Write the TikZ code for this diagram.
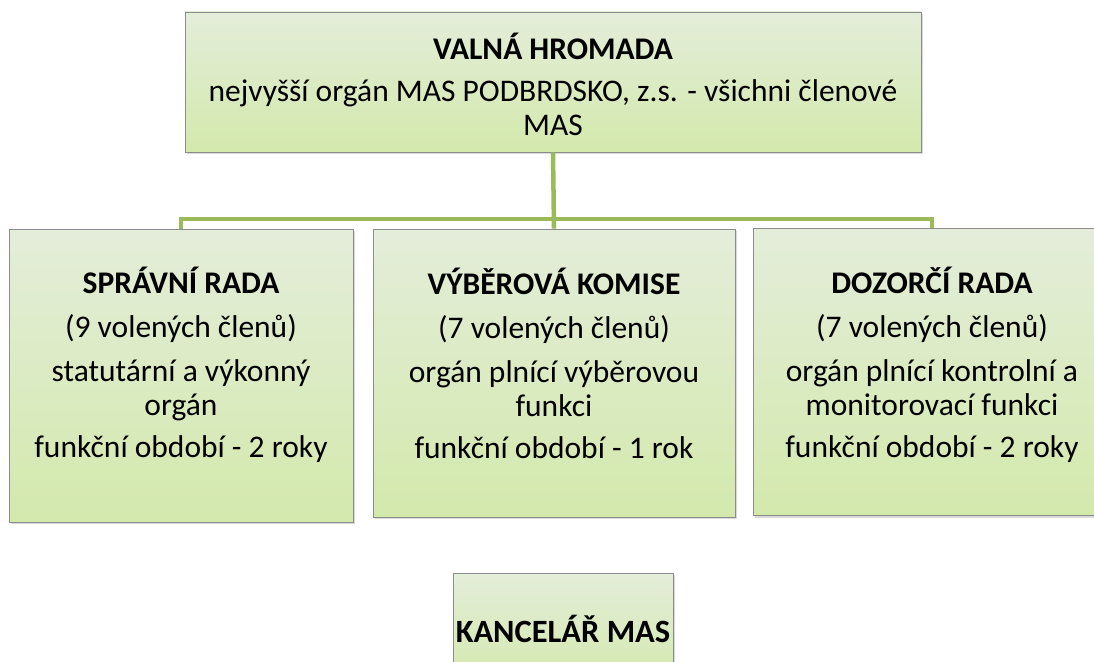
\documentclass[tikz,border=0pt]{standalone}
\usepackage{fontspec}
\setmainfont{Carlito}
\usetikzlibrary{shadows}
\definecolor{boxtop}{RGB}{228,237,218}
\definecolor{boxbot}{RGB}{211,233,172}
\definecolor{linegreen}{RGB}{155,187,89}
\begin{document}
\begin{tikzpicture}[x=1pt,y=-1pt,
	box/.style={draw=black!45,line width=0.7pt,top color=boxtop,bottom color=boxbot,inner sep=0pt,
		drop shadow={shadow xshift=1.5pt,shadow yshift=-2pt,opacity=0.3}},
	txt/.style={align=center,inner sep=0pt,font=\fontsize{31.5}{34}\selectfont},
	conn/.style={draw=linegreen,line width=4.5pt}]
		\useasboundingbox (0,0) rectangle (1094,661);
		\clip (0,0) rectangle (1094,661);
		% boxes
		\node[box,minimum width=736,minimum height=140] (vh) at (553,82) {};
		\node[box,minimum width=344,minimum height=293] (sr) at (181,375.5) {};
		\node[box,minimum width=362,minimum height=288] (vk) at (554,373) {};
		\node[box,minimum width=358,minimum height=287] (dr) at (932,372) {};
		\node[box,minimum width=220,minimum height=112] (kanc) at (563,629) {};
		% texts
		\node[txt] (vh-t) at (553,84) {\textbf{VALNÁ HROMADA}\\[8pt]
			nejvyšší orgán MAS PODBRDSKO, z.s. - všichni členové\\ MAS};
		\node[txt] (sr-t) at (181,364.5) {\textbf{SPRÁVNÍ RADA}\\[10pt]
			(9 volených členů)\\[10pt] statutární a výkonný\\ orgán\\[8pt]
			funkční období - 2 roky};
		\node[txt] (vk-t) at (554,363.5) {\textbf{VÝBĚROVÁ KOMISE}\\[10pt]
			(7 volených členů)\\[10pt] orgán plnící výběrovou\\ funkci\\[8pt]
			funkční období - 1 rok};
		\node[txt] (dr-t) at (932,364.5) {\textbf{DOZORČÍ RADA}\\[10pt]
			(7 volených členů)\\[10pt] orgán plnící kontrolní a\\ monitorovací funkci\\[8pt]
			funkční období - 2 roky};
		\node[txt,font=\fontsize{32.5}{34}\selectfont] (kanc-t) at (563,629) {\textbf{KANCELÁŘ MAS}};
		% connectors
		\coordinate (bus) at (553,219);
		\draw[conn] (vh.south) -- (vk.north);
		\draw[conn] (sr.north) -- (sr.north |- bus) -| (dr.north);
\end{tikzpicture}
\end{document}
